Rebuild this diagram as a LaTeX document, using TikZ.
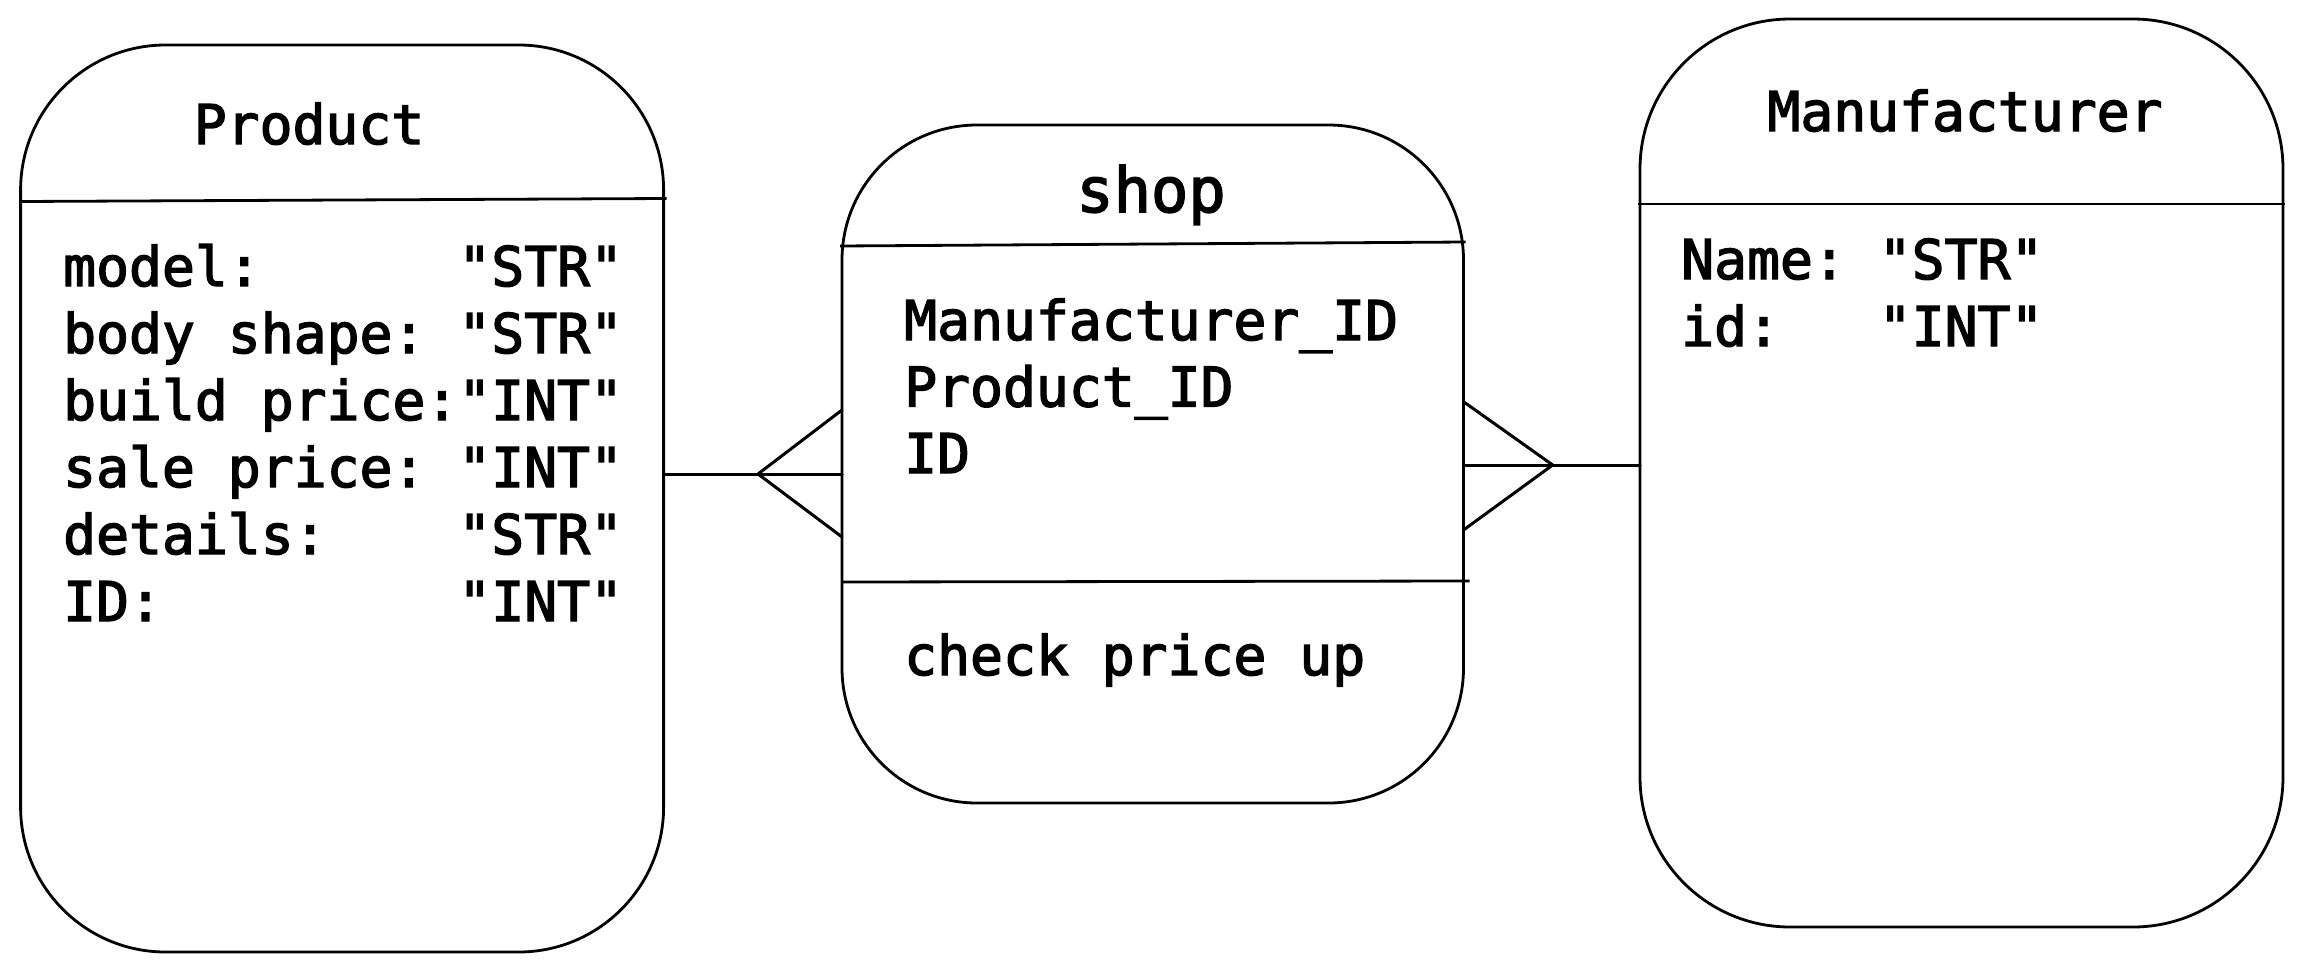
\documentclass[tikz,border=0pt]{standalone}
\usepackage{fontspec}
\setmonofont{DejaVu Sans Mono}
\usetikzlibrary{calc}
\newcommand\erfont[1]{\ttfamily\fontsize{#1}{#1}\selectfont\addfontfeatures{FakeBold=2.5}}
\begin{document}
\begin{tikzpicture}[x=1pt,y=-1pt,
  entity/.style={draw=black, line width=2.8pt, inner sep=0pt, outer sep=0pt},
  sepline/.style={draw=black, line width=2.8pt},
  link/.style={draw=black, line width=3pt, line cap=round, line join=round},
  txt/.style={font=\erfont{54.7}, inner sep=0pt, anchor=base west},
  ttl/.style={font=\erfont{54.7}, inner sep=0pt, anchor=base},
  bigttl/.style={font=\erfont{62}, inner sep=0pt, anchor=base}]
\useasboundingbox (0,0) rectangle (2303,972);
\fill[white] (0,0) rectangle (2303,972);

% entities
\node[entity, rounded corners=145pt, minimum width=643pt, minimum height=907pt] (product) at (342.1,498.5) {};
\node[entity, rounded corners=135pt, minimum width=621.5pt, minimum height=678pt] (shop) at (1152.75,464) {};
\node[entity, rounded corners=150pt, minimum width=643pt, minimum height=908pt] (manuf) at (1961.5,473) {};

% separators
\draw[sepline] ($(product.north west)+(0,156.5)$) -- ($(product.north east)+(3,153.5)$);
\draw[sepline] ($(shop.north west)+(-2,121)$) -- ($(shop.north east)+(2,117)$);
\draw[sepline] ($(shop.north west)+(0,457)$) -- ($(shop.north east)+(6,456)$);
\draw[sepline] ($(manuf.north west)+(-2,185)$) -- ($(manuf.north east)+(2,185)$);

% Product texts
\node[ttl] (ptitle) at (309,144) {Product};
\node[txt] (p1) at (63,286) {model:~~~~~~"STR"};
\node[txt] (p2) at (63,353) {body~shape:~"STR"};
\node[txt] (p3) at (63,420) {build~price:"INT"};
\node[txt] (p4) at (63,487) {sale~price:~"INT"};
\node[txt] (p5) at (63,554) {details:~~~~"STR"};
\node[txt] (p6) at (63,621) {ID:~~~~~~~~~"INT"};

% shop texts
\node[bigttl] (stitle) at (1151,212) {shop};
\node[txt] (s1) at (904,340) {Manufacturer\_ID};
\node[txt] (s2) at (904,406.5) {Product\_ID};
\node[txt] (s3) at (904,473) {ID};
\node[txt] (s4) at (904,675) {check~price~up};

% Manufacturer texts
\node[ttl] (mtitle) at (1965,131) {Manufacturer};
\node[txt] (m1) at (1681,279) {Name:~"STR"};
\node[txt] (m2) at (1681,346) {id:~~~"INT"};

% connectors (crow's feet at shop)
\coordinate (f1) at (758,474);
\coordinate (u1) at (841,410);
\coordinate (l1) at (841,537);
\draw[link] (product.east |- f1) -- (shop.west |- f1);
\draw[link] (shop.west |- u1) -- (f1) -- (shop.west |- l1);

\coordinate (f2) at (1552.7,465);
\coordinate (u2) at (1464,401.7);
\coordinate (l2) at (1464,530);
\draw[link] (shop.east |- f2) -- (manuf.west |- f2);
\draw[link] (shop.east |- u2) -- (f2) -- (shop.east |- l2);
\end{tikzpicture}
\end{document}
